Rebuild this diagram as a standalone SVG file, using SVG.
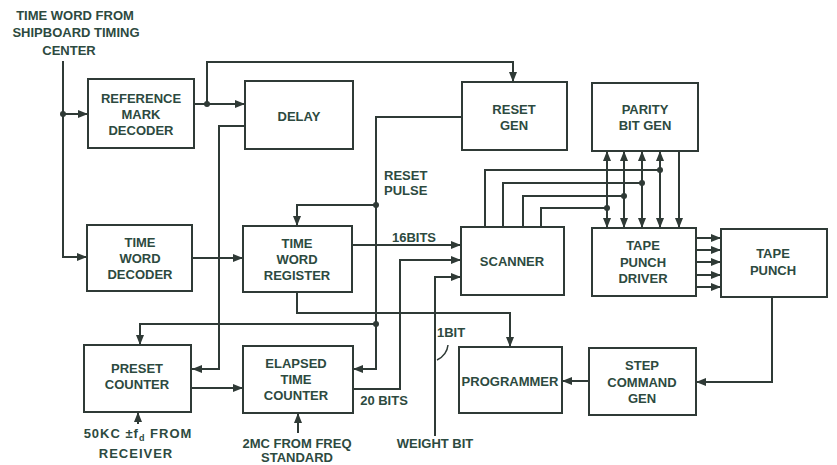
<svg xmlns="http://www.w3.org/2000/svg" width="837" height="465" viewBox="0 0 837 465">
<defs>
<style>
.bg{fill:#ffffff}
.box rect{fill:none;stroke:#2f3a36;stroke-width:2}
text{font-family:"Liberation Sans",Arial,sans-serif;font-size:13px;font-weight:bold;fill:#2d4a40;text-anchor:middle}
.lbl{text-anchor:start}
.sp{letter-spacing:1px}
.w{fill:none;stroke:#2f3a36;stroke-width:2}
.a{marker-end:url(#arr)}
.b{marker-start:url(#arr);marker-end:url(#arr)}
.dot{fill:#2f3a36}
</style>
<marker id="arr" markerUnits="userSpaceOnUse" markerWidth="11" markerHeight="9" refX="10" refY="4" orient="auto-start-reverse">
<path d="M0,0 L10,4 L0,8 z" fill="#2f3a36"/>
</marker>
</defs>
<rect class="bg" x="0" y="0" width="837" height="465"/>

<g id="source-label">
<text x="75" y="20">TIME WORD FROM</text>
<text x="76" y="37">SHIPBOARD TIMING</text>
<text x="69" y="55">CENTER</text>
</g>

<g id="connectors">
<path class="w a" d="M63,61 V257 H87"/>
<path class="w a" d="M63,114 H88"/>
<path class="w a" d="M194,104 H245"/>
<path class="w a" d="M207,104 V62 H513 V82"/>
<path class="w a" d="M245,126 H219 V369 H192"/>
<path class="w a" d="M192,258 H243"/>
<path class="w a" d="M462,117 H376 V369 H353"/>
<path class="w a" d="M376,205 H297 V226"/>
<path class="w a" d="M376,324 H140 V345"/>
<path class="w a" d="M352,245 H461"/>
<path class="w a" d="M353,389 H400 V260 H461"/>
<path class="w a" d="M435,436 V277 H461"/>
<path class="w a" d="M297,292 V313 H510 V347"/>
<path class="w a" d="M191,388 H243"/>
<path class="w a" d="M138,424 V412"/>
<path class="w a" d="M298,433 V413"/>
<path class="w" d="M485,227 V170 H660"/>
<path class="w" d="M503,227 V183 H642"/>
<path class="w" d="M523,227 V196 H624"/>
<path class="w" d="M541,227 V208 H607"/>
<path class="w b" d="M607,151 V228"/>
<path class="w b" d="M624,151 V228"/>
<path class="w b" d="M642,151 V228"/>
<path class="w b" d="M660,151 V228"/>
<path class="w a" d="M679,151 V228"/>
<path class="w a" d="M696,238 H721"/>
<path class="w a" d="M696,250 H721"/>
<path class="w a" d="M696,262 H721"/>
<path class="w a" d="M696,275 H721"/>
<path class="w a" d="M696,287 H721"/>
<path class="w a" d="M772,297 V382 H696"/>
<path class="w a" d="M589,381 H562"/>
<path class="w" style="stroke-width:1.5" d="M448,345 Q447,355 437,360"/>
<circle class="dot" cx="63" cy="114" r="3"/>
<circle class="dot" cx="207" cy="104" r="3"/>
<circle class="dot" cx="376" cy="205" r="3"/>
<circle class="dot" cx="376" cy="324" r="3"/>
<circle class="dot" cx="660" cy="170" r="3"/>
<circle class="dot" cx="642" cy="183" r="3"/>
<circle class="dot" cx="624" cy="196" r="3"/>
<circle class="dot" cx="607" cy="208" r="3"/>
</g>

<g id="ref-mark-decoder" class="box"><rect x="88" y="79" width="106" height="69"/>
<text x="141" y="103">REFERENCE</text><text x="141" y="119">MARK</text><text x="141" y="135">DECODER</text></g>
<g id="delay" class="box"><rect x="245" y="81" width="108" height="68"/>
<text x="299" y="121">DELAY</text></g>
<g id="reset-gen" class="box"><rect x="462" y="82" width="105" height="68"/>
<text x="514" y="114">RESET</text><text x="514" y="130">GEN</text></g>
<g id="parity-bit-gen" class="box"><rect x="592" y="83" width="106" height="68"/>
<text x="645" y="114">PARITY</text><text x="645" y="130">BIT GEN</text></g>
<g id="time-word-decoder" class="box"><rect x="87" y="225" width="105" height="66"/>
<text x="140" y="247">TIME</text><text x="140" y="263">WORD</text><text x="140" y="279">DECODER</text></g>
<g id="time-word-register" class="box"><rect x="243" y="226" width="109" height="66"/>
<text x="297" y="248">TIME</text><text x="297" y="264">WORD</text><text x="297" y="280">REGISTER</text></g>
<g id="scanner" class="box"><rect x="461" y="227" width="103" height="68"/>
<text x="512" y="266">SCANNER</text></g>
<g id="tape-punch-driver" class="box"><rect x="592" y="228" width="104" height="68"/>
<text x="643" y="250">TAPE</text><text x="643" y="267">PUNCH</text><text x="643" y="283">DRIVER</text></g>
<g id="tape-punch" class="box"><rect x="721" y="229" width="106" height="68"/>
<text x="773" y="258">TAPE</text><text x="773" y="275">PUNCH</text></g>
<g id="preset-counter" class="box"><rect x="84" y="345" width="107" height="67"/>
<text x="137" y="373">PRESET</text><text x="137" y="389">COUNTER</text></g>
<g id="elapsed-time-counter" class="box"><rect x="243" y="346" width="110" height="67"/>
<text x="296" y="368">ELAPSED</text><text x="296" y="384">TIME</text><text x="296" y="400">COUNTER</text></g>
<g id="programmer" class="box"><rect x="459" y="347" width="103" height="66"/>
<text x="510" y="386">PROGRAMMER</text></g>
<g id="step-command-gen" class="box"><rect x="589" y="348" width="107" height="67"/>
<text x="642" y="370">STEP</text><text x="642" y="387">COMMAND</text><text x="642" y="403">GEN</text></g>

<g id="labels">
<text class="lbl" x="384" y="180">RESET</text>
<text class="lbl" x="384" y="195">PULSE</text>
<text x="414" y="242">16BITS</text>
<text x="451" y="337">1BIT</text>
<text x="384" y="405">20 BITS</text>
<text x="435" y="448">WEIGHT BIT</text>
<text x="297" y="448">2MC FROM FREQ</text>
<text x="297" y="462">STANDARD</text>
<text class="sp" x="138" y="438">50KC ±f<tspan font-size="9" dy="3">d</tspan><tspan dy="-3"> FROM</tspan></text>
<text class="sp" x="136" y="458">RECEIVER</text>
</g>
</svg>
